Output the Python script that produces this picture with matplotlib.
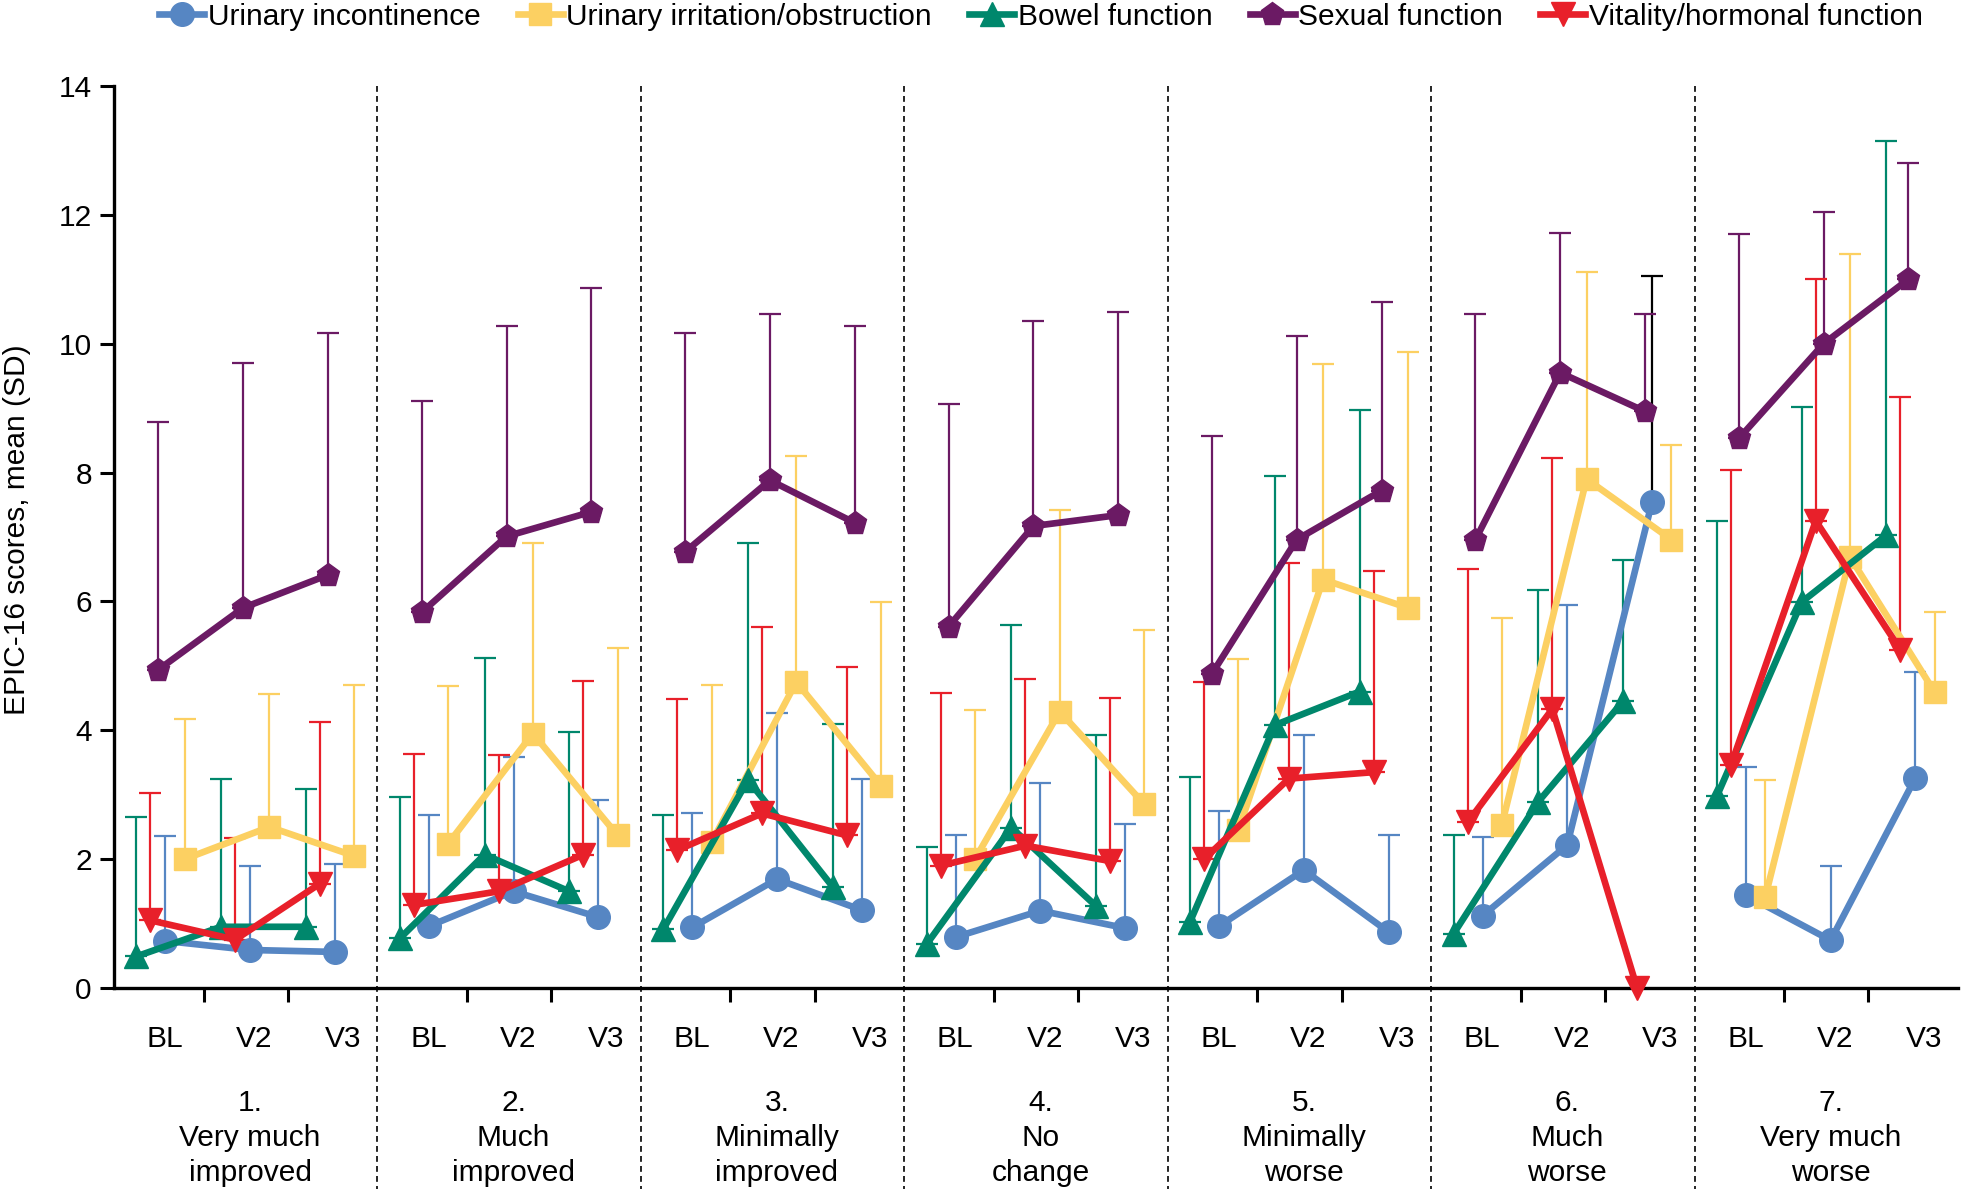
import matplotlib.pyplot as plt
import numpy as np

plt.rcParams['font.family'] = ['Liberation Sans', 'DejaVu Sans']

# 7 change groups x 3 visits (BL, V2, V3)
groups = ['1.\nVery much\nimproved', '2.\nMuch\nimproved', '3.\nMinimally\nimproved',
          '4.\nNo\nchange', '5.\nMinimally\nworse', '6.\nMuch\nworse', '7.\nVery much\nworse']
visits = ['BL', 'V2', 'V3']

series_names = ['Urinary incontinence', 'Urinary irritation/obstruction', 'Bowel function',
                'Sexual function', 'Vitality/hormonal function']

incont_mean = [0.73, 0.59, 0.56, 0.96, 1.50, 1.10, 0.94, 1.69, 1.21, 0.79, 1.20, 0.93,
               0.96, 1.83, 0.87, 1.12, 2.22, 7.54, 1.44, 0.74, 3.26]
incont_sd = [1.63, 1.31, 1.37, 1.72, 2.09, 1.82, 1.77, 2.58, 2.04, 1.58, 1.98, 1.61,
             1.79, 2.09, 1.50, 1.23, 3.73, 3.51, 1.99, 1.15, 1.64]

irrit_mean = [2.00, 2.50, 2.05, 2.24, 3.95, 2.37, 2.26, 4.75, 3.14, 2.00, 4.29, 2.85,
              2.45, 6.34, 5.90, 2.53, 7.90, 6.96, 1.41, 6.69, 4.59]
irrit_sd = [2.17, 2.07, 2.66, 2.44, 2.96, 2.91, 2.44, 3.51, 2.85, 2.31, 3.13, 2.71,
            2.65, 3.34, 3.97, 3.22, 3.22, 1.47, 1.82, 4.70, 1.24]

bowel_mean = [0.49, 0.95, 0.95, 0.77, 2.07, 1.50, 0.91, 3.23, 1.57, 0.68, 2.49, 1.27,
              1.03, 4.08, 4.60, 0.84, 2.89, 4.45, 2.98, 5.99, 7.03]
bowel_sd = [2.17, 2.30, 2.14, 2.20, 3.05, 2.48, 1.78, 3.67, 2.53, 1.51, 3.15, 2.66,
            2.25, 3.87, 4.37, 1.53, 3.29, 2.19, 4.27, 3.02, 6.11]

sexual_mean = [4.94, 5.90, 6.41, 5.83, 7.01, 7.39, 6.77, 7.88, 7.22, 5.61, 7.17, 7.34,
               4.88, 6.96, 7.72, 6.96, 9.55, 8.95, 8.53, 10.00, 11.00]
sexual_sd = [3.84, 3.80, 3.75, 3.28, 3.26, 3.47, 3.39, 2.58, 3.05, 3.45, 3.19, 3.16,
             3.69, 3.16, 2.93, 3.50, 2.17, 1.51, 3.17, 2.05, 1.80]

vital_mean = [1.05, 0.75, 1.62, 1.29, 1.50, 2.07, 2.14, 2.71, 2.37, 1.90, 2.21, 1.97,
              2.00, 3.25, 3.35, 2.57, 4.33, 0.00, 3.46, 7.25, 5.25]
vital_sd = [1.98, 1.58, 2.51, 2.34, 2.11, 2.69, 2.35, 2.90, 2.62, 2.68, 2.59, 2.53,
            2.75, 3.35, 3.13, 3.93, 3.90, 0.00, 4.58, 3.75, 3.92]

means = [incont_mean, irrit_mean, bowel_mean, sexual_mean, vital_mean]
sds = [incont_sd, irrit_sd, bowel_sd, sexual_sd, vital_sd]
colors = ['#5686C3', '#FCD062', '#00876C', '#6B1A64', '#E8202A']
markers = ['o', 's', '^', 'p', 'v']
msizes = [17, 16, 17, 17, 17]
offsets = [0.05, 0.27, -0.28, -0.03, -0.12]
# one error bar drawn in black in the reference (incontinence, group 6, V3)
black_err = {0: [17]}

centers = np.array([0.535, 1.5, 2.465])
fs = 21.5

fig = plt.figure(figsize=(19.68, 11.89), dpi=100)
ax = fig.add_axes([114 / 1968, 1 - 988 / 1189, (1958 - 114) / 1968, (988 - 86) / 1189])

handles = []
for s in range(5):
    m = np.array(means[s])
    sd = np.array(sds[s])
    for g in range(7):
        x = g * 3 + centers + offsets[s]
        idx = slice(g * 3, g * 3 + 3)
        for k in range(3):
            i = g * 3 + k
            if sd[i] <= 0:
                continue
            ec = 'black' if i in black_err.get(s, []) else colors[s]
            ax.errorbar(x[k], m[i], yerr=[[0], [sd[i]]], fmt='none', ecolor=ec,
                        elinewidth=1.6, capsize=8, capthick=1.6, zorder=1)
        ln, = ax.plot(x, m[idx], color=colors[s], lw=4.8, marker=markers[s],
                      ms=msizes[s], mec=colors[s], mfc=colors[s], zorder=3 + s,
                      clip_on=False)
        if g == 0:
            handles.append(ln)

ax.set_xlim(0, 21)
ax.set_ylim(0, 14)
ax.set_yticks(np.arange(0, 15, 2))
ax.set_xticks([g * 3 + t for g in range(7) for t in (1.02, 1.98)])
ax.set_xticklabels([])
ax.tick_params(axis='y', labelsize=fs, length=10, width=2.2, pad=6)
ax.tick_params(axis='x', length=10, width=2.2)
for side in ['top', 'right']:
    ax.spines[side].set_visible(False)
for side in ['left', 'bottom']:
    ax.spines[side].set_linewidth(2.4)

trans = ax.get_xaxis_transform()
for g in range(1, 7):
    ax.plot([g * 3, g * 3], [1, -0.225], transform=trans, color='black', lw=1.2,
            ls=(0, (3.5, 2.5)), clip_on=False, zorder=0)

for g in range(7):
    for k, v in enumerate(visits):
        ax.text(g * 3 + [0.58, 1.6, 2.61][k], -0.056, v, transform=trans,
                ha='center', va='center', fontsize=fs)
    for j, line in enumerate(groups[g].split('\n')):
        ax.text(g * 3 + 1.55, -0.128 - 0.0385 * j, line, transform=trans,
                ha='center', va='center', fontsize=fs)

fig.text(17 / 1968, 1 - 530 / 1189, 'EPIC-16 scores, mean (SD)', rotation=90,
         ha='center', va='center', fontsize=fs)

fig.legend(handles, series_names, loc='center', bbox_to_anchor=(0.529, 0.986), ncol=5,
           frameon=False, fontsize=fs, handlelength=1.5, handletextpad=0.12,
           columnspacing=1.25, borderaxespad=0)

fig.savefig('out.png', dpi=100)
